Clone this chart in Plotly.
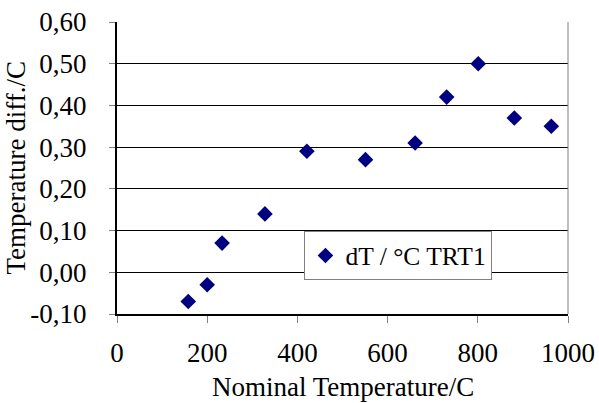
import plotly.graph_objects as go

nominal_temp = [158, 200, 233, 328, 421, 551, 661, 731, 801, 881, 963]
temp_diff = [-0.07, -0.03, 0.07, 0.14, 0.29, 0.27, 0.31, 0.42, 0.50, 0.37, 0.35]
series_name = "dT / °C TRT1"
x_title = "Nominal Temperature/C"
y_title = "Temperature diff./C"
x_ticks = [0, 200, 400, 600, 800, 1000]
y_ticks = [-0.10, 0.00, 0.10, 0.20, 0.30, 0.40, 0.50, 0.60]
y_tick_labels = ["-0,10", "0,00", "0,10", "0,20", "0,30", "0,40", "0,50", "0,60"]

FONT = "Liberation Serif"
f = dict(family=FONT, size=27, color="black")
fl = dict(family=FONT, size=25.5, color="black")

fig = go.Figure()
fig.add_trace(go.Scatter(
    x=nominal_temp, y=temp_diff, mode="markers", name=series_name,
    marker=dict(symbol="diamond", size=12, color="#000080"),
    showlegend=True,
))

fig.update_layout(
    width=599, height=403,
    margin=dict(l=117, r=31, t=22, b=89, autoexpand=False),
    paper_bgcolor="white", plot_bgcolor="white",
    font=f,
    showlegend=True,
    legend=dict(
        x=0.4156, y=0.283, xanchor="left", yanchor="top",
        bordercolor="#808080", borderwidth=1, bgcolor="white",
        font=fl, itemwidth=30, tracegroupgap=0,
    ),
    xaxis=dict(
        range=[0, 1000], tickvals=x_ticks, ticktext=[str(v) for v in x_ticks],
        showgrid=False, zeroline=False, automargin=False,
        showline=True, linecolor="black", linewidth=2,
        ticks="outside", ticklen=7, tickcolor="#808080", tickwidth=1,
        ticklabelstandoff=7,
        tickfont=f,
    ),
    yaxis=dict(
        range=[-0.10, 0.60], tickvals=y_ticks, ticktext=y_tick_labels,
        showgrid=True, gridcolor="black", gridwidth=1, zeroline=False, automargin=False,
        showline=True, linecolor="black", linewidth=2,
        ticks="outside", ticklen=6, tickcolor="#808080", tickwidth=1,
        ticklabelstandoff=17,
        tickfont=f,
    ),
    annotations=[
        dict(text=x_title, xref="paper", yref="paper", x=0.5, y=-0.2500,
             xanchor="center", yanchor="middle", showarrow=False, font=f),
        dict(text=y_title, xref="paper", yref="paper", x=-0.2250, y=0.5,
             xanchor="center", yanchor="middle", textangle=-90, showarrow=False, font=f),
    ],
)
fig.add_shape(type="line", xref="paper", yref="paper", x0=1, x1=1, y0=0, y1=1,
              line=dict(color="#808080", width=1))

fig.write_html("out.html", config={"displayModeBar": False},
               post_script="document.body.style.margin='0';document.body.style.overflow='hidden';")
